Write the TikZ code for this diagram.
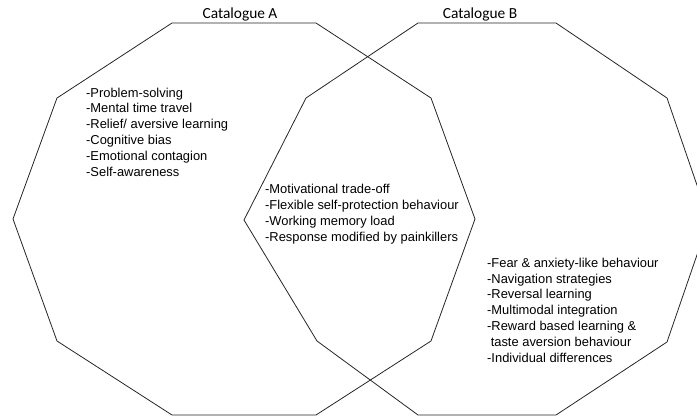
\documentclass[tikz,border=0pt]{standalone}
\usepackage{fontspec}
\setmainfont{Liberation Sans}
\newfontfamily\titlefont{Carlito}
\tikzset{
 edge/.style={draw=black!85, line width=0.8pt, line join=miter},
 list/.style={anchor=base west, align=left, inner sep=0pt,
  font=\fontsize{12.9}{15.8}\selectfont},
 title/.style={inner sep=0pt, font=\titlefont\fontsize{15.4}{17}\selectfont},
 }

\begin{document}
\begin{tikzpicture}[x=1pt,y=-1pt]
        \useasboundingbox (0,0) rectangle (697,416);
        \clip (0,0) rectangle (697,416);

        % Catalogue A
        \draw[edge] (13,219) -- (57,98) -- (172,23) -- (316,23) -- (431,98)
            -- (475,219) -- (431,341) -- (316,415) -- (172,415) -- (57,341) -- cycle;
        % Catalogue B
        \draw[edge] (244,220) -- (306,98) -- (418,23) -- (556,23) -- (667,98)
            -- (709,220) -- (667,342) -- (556,415) -- (418,415) -- (317,341) -- cycle;

        \node[title] (titleA) at (240,14) {Catalogue A};
        \node[title] (titleB) at (480,14) {Catalogue B};

        % lists, placed by the baseline of their last line
        \node[list] (listA) at (86,176) {-Problem-solving\\-Mental time travel\\
            -Relief/ aversive learning\\-Cognitive bias\\-Emotional contagion\\-Self-awareness};
        \node[list] (listAB) at (265,241) {-Motivational trade-off\\
            -Flexible self-protection behaviour\\-Working memory load\\
            -Response modified by painkillers};
        \node[list] (listB) at (487,362) {-Fear \& anxiety-like behaviour\\
            -Navigation strategies\\-Reversal learning\\-Multimodal integration\\
            -Reward based learning \&\\\ taste aversion behaviour\\-Individual differences};
    \end{tikzpicture}
\end{document}
